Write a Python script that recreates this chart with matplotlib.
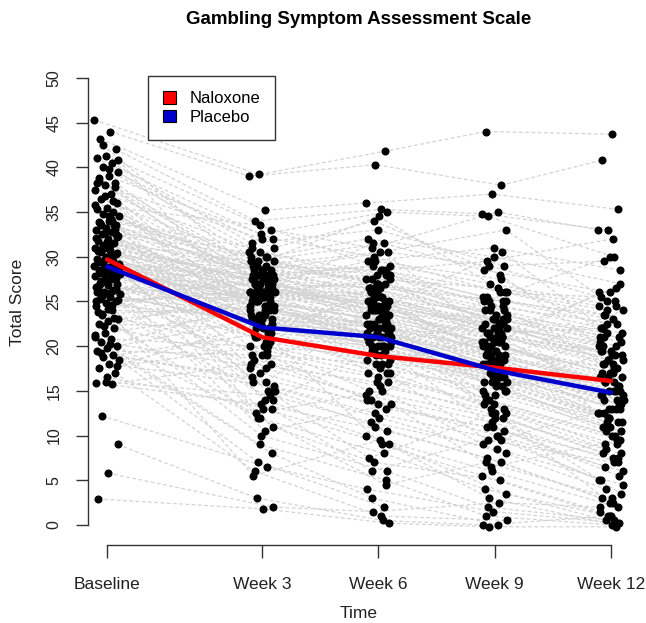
import numpy as np
import matplotlib
matplotlib.use("Agg")
import matplotlib.pyplot as plt
from matplotlib.patches import Patch

plt.rcParams['font.family'] = ['Liberation Sans', 'DejaVu Sans']

nan = np.nan

# visit positions on the time axis and their labels
visits = [-1, 3, 6, 9, 12]
visit_labels = ["Baseline", "Week 3", "Week 6", "Week 9", "Week 12"]

# total score per subject: baseline, week 3, week 6, week 9, week 12
scores = [
    [45.3, 39.2, 41.8, 44.0, 43.7],
    [44.0, 39.0, 40.3, 38.0, 40.8],
    [43.2, 35.2, 36.0, 37.0, 35.3],
    [42.0, 34.0, 35.3, 34.8, 33.0],
    [41.3, 33.0, 31.0, 35.0, 33.0],
    [41.0, 32.5, 35.0, 34.5, 30.0],
    [40.5, 31.5, 33.0, 29.0, 29.5],
    [40.0, 30.0, 32.0, 30.0, 27.0],
    [39.5, 29.5, 31.5, 28.5, 26.0],
    [39.0, 32.0, 30.0, 26.0, 25.5],
    [38.5, 28.0, 29.0, 27.0, 24.5],
    [38.3, 27.5, 26.5, 25.0, 22.5],
    [38.0, 26.0, 25.0, 22.0, 19.0],
    [37.5, 30.5, 28.0, 25.5, 23.0],
    [37.0, 24.0, 22.0, 21.0, 18.0],
    [36.5, 29.0, 27.5, 23.0, 21.0],
    [36.0, 22.0, 18.0, 15.0, 12.0],
    [35.5, 27.0, 24.0, 22.5, 20.0],
    [35.3, 28.5, 30.5, 29.0, 25.0],
    [35.0, 25.0, 23.0, 19.0, 16.0],
    [34.8, 20.0, 15.0, 12.0, 8.0],
    [34.5, 26.5, 27.0, 24.0, nan],
    [34.0, 29.5, 26.0, 21.5, 22.0],
    [33.8, 23.5, 21.0, 18.5, 14.0],
    [33.5, 27.8, 28.5, 26.0, 24.0],
    [33.2, 18.0, 14.0, 10.0, 6.0],
    [33.0, 26.0, 24.5, 20.0, 17.0],
    [32.8, 30.0, 27.0, 25.0, 23.5],
    [32.5, 24.5, 22.5, 17.0, 13.0],
    [32.3, 21.0, 20.0, 16.0, 11.0],
    [32.0, 28.0, 29.0, 22.0, 20.5],
    [31.8, 25.5, 21.5, 18.0, 15.0],
    [31.5, 16.0, 12.0, 8.0, 4.0],
    [31.3, 27.0, 26.5, 23.5, 21.5],
    [31.0, 22.5, 19.5, 14.0, 10.0],
    [30.8, 26.0, 25.5, 21.0, 19.5],
    [30.5, 14.0, 10.0, 6.0, 2.0],
    [30.3, 25.0, 23.5, 20.5, 16.5],
    [30.0, 28.5, 27.5, 26.5, 24.5],
    [29.8, 23.0, 22.0, 19.5, 17.5],
    [29.5, 19.0, 16.5, 13.0, 9.0],
    [29.3, 26.5, 25.0, 22.0, nan],
    [29.0, 12.0, 8.0, 4.0, 1.0],
    [28.8, 24.0, 22.5, 18.0, 14.5],
    [28.5, 27.5, 28.0, 24.5, 22.5],
    [28.3, 21.5, 17.5, 15.0, 11.5],
    [28.0, 25.5, 24.0, 21.0, 18.5],
    [27.8, 17.0, 13.0, 11.0, 7.5],
    [27.5, 26.0, 26.0, 23.0, 20.0],
    [27.3, 20.5, 18.5, 16.5, 13.5],
    [27.0, 29.0, 28.5, 25.5, nan],
    [26.8, 23.0, 21.0, 17.5, 12.5],
    [26.5, 13.0, 9.0, 3.0, 0.0],
    [26.3, 25.0, 23.0, 20.0, 16.0],
    [26.0, 22.0, 20.5, 14.5, 10.5],
    [25.8, 27.0, 25.0, 22.5, 19.0],
    [25.5, 15.0, 11.0, 7.0, 3.0],
    [25.3, 24.0, 22.0, 19.0, 15.5],
    [25.0, 21.0, 19.0, 16.0, 12.0],
    [24.8, 26.5, 24.5, 21.5, nan],
    [24.5, 10.0, 6.0, 2.0, 0.5],
    [24.0, 23.5, 21.5, 18.5, 14.0],
    [23.5, 19.5, 17.0, 13.5, 9.5],
    [23.0, 25.0, 23.0, 20.5, 17.0],
    [22.8, 11.0, 7.0, 5.0, 1.5],
    [22.5, 22.0, 20.0, 17.0, 13.0],
    [22.0, 18.5, 15.5, 12.5, 8.5],
    [21.5, 24.0, 22.5, 19.5, nan],
    [21.0, 9.0, 5.0, 1.0, 0.0],
    [20.8, 20.0, 19.0, 15.5, 11.0],
    [20.5, 17.5, 14.5, 11.5, 7.0],
    [20.0, 23.0, 21.0, 18.0, 15.0],
    [19.8, 8.0, 3.0, 0.0, nan],
    [19.5, 19.0, 18.0, 14.0, 10.0],
    [19.0, 16.5, 13.5, 10.5, 6.5],
    [18.8, 21.5, 20.5, 17.5, 13.5],
    [18.5, 7.0, 2.0, nan, nan],
    [18.0, 15.5, 12.5, 9.5, 5.0],
    [17.5, 20.0, 17.0, 13.0, 9.0],
    [17.0, 6.0, 1.0, 0.5, nan],
    [16.0, 14.5, 11.5, 8.5, 4.5],
    [15.9, 13.5, 10.5, 7.5, 2.5],
    [15.8, 18.0, 16.0, 12.0, 8.0],
    [12.2, 6.5, 4.0, 1.5, 0.2],
    [9.0, 3.0, 0.5, 0.0, 1.0],
    [5.8, 2.0, 1.5, 2.5, 2.0],
    [2.9, 1.8, 0.2, -0.2, -0.2],
    [33.5, 28.0, 22.0, nan, nan],
    [31.0, 27.5, nan, nan, nan],
    [29.0, 26.0, 24.0, 19.0, nan],
    [28.0, 30.5, 26.5, nan, nan],
    [27.0, nan, nan, nan, nan],
    [32.5, 29.0, 25.5, 22.0, 18.5],
    [30.0, 24.5, 20.0, 16.5, 12.5],
    [26.0, 22.5, 21.5, 19.0, 16.0],
    [34.0, 31.0, 27.0, 24.0, 21.0],
    [42.5, 27.0, 29.5, 31.0, 28.5],
    [40.8, 23.0, 20.0, 25.0, 30.0],
    [39.8, 31.0, 34.0, 28.0, 20.0],
    [38.8, 25.5, 18.5, 21.0, 26.5],
    [37.8, 29.0, 30.5, 33.0, 25.0],
    [36.8, 20.5, 26.5, 16.0, 11.5],
    [35.8, 33.5, 28.5, 29.5, 32.0],
    [34.2, 17.5, 24.0, 30.5, 22.0],
    [33.6, 30.0, 21.0, 11.0, 5.5],
    [32.2, 12.5, 15.0, 9.0, 13.0],
    [31.6, 26.5, 31.5, 20.5, 26.0],
    [30.6, 23.5, 16.0, 25.0, 17.5],
    [30.2, 29.0, 34.5, 26.0, 23.5],
    [29.6, 15.0, 7.5, 12.5, 3.5],
    [29.2, 28.0, 22.5, 14.5, 19.5],
    [28.6, 24.5, 29.5, 27.5, 22.0],
    [28.2, 10.5, 13.5, 6.5, 9.5],
    [27.6, 27.0, 20.0, 23.5, 11.0],
    [27.2, 21.5, 26.0, 18.5, 24.0],
    [26.6, 25.5, 17.0, 9.5, 7.0],
    [26.2, 29.5, 27.0, 22.5, 18.0],
    [25.6, 19.0, 14.0, 20.5, 15.0],
    [25.2, 26.0, 23.5, 13.5, 2.5],
    [24.2, 14.0, 19.5, 16.5, 21.0],
    [23.8, 28.5, 25.0, 24.0, 20.0],
    [23.2, 5.5, 9.5, 3.5, 0.5],
    [22.2, 26.5, 22.0, 15.5, 16.5],
    [21.2, 12.0, 4.5, 7.0, 3.0],
    [20.2, 24.5, 18.0, 21.0, 14.5],
    [19.2, 16.0, 23.5, 12.5, 7.5],
    [17.8, 22.5, 9.0, 5.5, 1.0],
    [16.5, 13.0, 6.0, 10.0, 5.0],
    [38.2, 32.0, nan, nan, nan],
    [36.2, 27.5, 24.5, nan, nan],
    [31.2, nan, nan, nan, nan],
    [28.4, 25.0, nan, nan, nan],
    [34.6, 27.5, 25.5, 22.5, 19.5],
    [33.9, 26.0, 27.5, 20.0, 17.5],
    [33.1, 28.5, 24.0, 23.0, 21.5],
    [32.6, 25.0, 26.0, 18.5, 14.5],
    [32.1, 27.0, 23.0, 21.5, 18.0],
    [31.4, 29.5, 28.0, 24.5, 22.0],
    [30.9, 24.0, 21.5, 17.5, 15.5],
    [30.4, 26.5, 24.5, 20.0, 12.0],
    [29.9, 22.5, 25.0, 19.0, 16.5],
    [29.4, 27.5, 23.5, 21.5, 19.0],
    [28.9, 25.5, 21.0, 15.0, 10.5],
    [28.7, 28.0, 26.5, 23.0, 20.5],
    [28.1, 23.5, 22.0, 18.0, 13.0],
    [27.7, 26.0, 24.0, 20.5, 17.0],
    [27.1, 24.5, 20.5, 16.0, 11.5],
    [26.4, 27.0, 25.5, 22.0, 18.5],
    [25.9, 22.0, 19.5, 17.0, 14.0],
    [25.1, 25.5, 22.5, 19.5, 15.0],
    [24.6, 23.0, 20.0, 16.5, 12.5],
    [23.6, 24.5, 21.0, 18.0, 13.5],
]

# group means per visit
naloxone_mean = [29.7, 21.0, 18.9, 17.6, 16.1]
placebo_mean = [28.9, 22.1, 21.0, 17.3, 14.8]

scores = np.array(scores)
n_subj = scores.shape[0]

# spread the points sideways a little so they don't sit on top of each other
idx = np.arange(n_subj)[:, None]
t = np.arange(len(visits))[None, :]
frac = (idx * 0.6180339887 + t * 0.3819660113) % 1.0
xs = np.array(visits)[None, :] + (frac - 0.5) * 0.66

fig = plt.figure(figsize=(6.46, 6.23), dpi=100)
ax = fig.add_axes([88 / 646, 1 - 545 / 623, 542 / 646, 485 / 623])

for i in range(n_subj):
    ax.plot(xs[i], scores[i], color='#d3d3d3', lw=0.9, ls=(0, (3, 2)), zorder=1)

ax.plot(xs.ravel(), scores.ravel(), 'o', color='black', ms=5.8, mew=0, zorder=2)

ax.plot(visits, naloxone_mean, color='#ff0000', lw=3.2, zorder=3, solid_capstyle='round')
ax.plot(visits, placebo_mean, color='#0000cd', lw=3.2, zorder=4, solid_capstyle='round')

ax.set_xlim(-1.49, 12.49)
ax.set_ylim(-2.24, 52.0)

ax.spines['top'].set_visible(False)
ax.spines['right'].set_visible(False)
ax.spines['left'].set_bounds(0, 50)
ax.spines['bottom'].set_bounds(-1, 12)
for s in ('left', 'bottom'):
    ax.spines[s].set_color('#333333')
    ax.spines[s].set_linewidth(1.0)

ax.set_xticks(visits)
ax.set_xticklabels(visit_labels, fontsize=12.5)
ax.set_yticks(np.arange(0, 51, 5))
ax.set_yticklabels([str(v) for v in range(0, 51, 5)], fontsize=11.5,
                   rotation=90, va='center')
ax.tick_params(axis='both', direction='out', length=9, width=1.0,
               color='#333333', labelcolor='#222222')
ax.tick_params(axis='x', pad=14)
ax.tick_params(axis='y', pad=10)

fig.text(359 / 646, 1 - 20 / 623, "Gambling Symptom Assessment Scale",
         ha='center', va='center', fontsize=13.5, fontweight='bold')
fig.text(359 / 646, 1 - 614 / 623, "Time", ha='center', va='center',
         fontsize=12.5, color='#222222')
fig.text(18 / 646, 1 - 302 / 623, "Total Score", ha='center', va='center',
         rotation=90, fontsize=12.5, color='#222222')

handles = [Patch(facecolor='#ff0000', edgecolor='black', lw=0.8),
           Patch(facecolor='#0000cd', edgecolor='black', lw=0.8)]
leg = ax.legend(handles, ["Naloxone", "Placebo"], loc='upper left',
                bbox_to_anchor=(148 / 646, 1 - 76 / 623),
                bbox_transform=fig.transFigure, fontsize=12,
                frameon=True, fancybox=False, borderpad=0.9, borderaxespad=0,
                handlelength=0.8, handleheight=0.8, handletextpad=0.8,
                labelspacing=0.2)
leg.get_frame().set_edgecolor('black')
leg.get_frame().set_linewidth(1.0)

fig.savefig("out.png", dpi=100)
